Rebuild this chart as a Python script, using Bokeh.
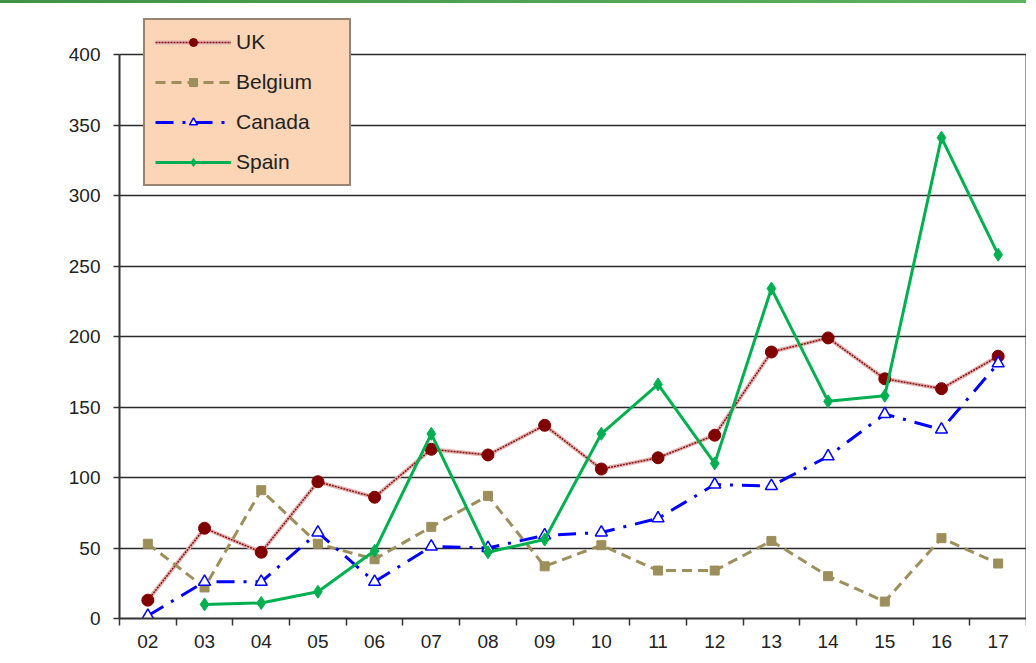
from bokeh.plotting import figure
from bokeh.models import Range1d, FixedTicker, Legend, LegendItem, Div, LinearAxis
from bokeh.layouts import column
from bokeh.embed import file_html
from bokeh.resources import INLINE

years = ["02", "03", "04", "05", "06", "07", "08", "09",
         "10", "11", "12", "13", "14", "15", "16", "17"]
uk = [13, 64, 47, 97, 86, 120, 116, 137, 106, 114, 130, 189, 199, 170, 163, 186]
belgium = [53, 22, 91, 53, 42, 65, 87, 37, 52, 34, 34, 55, 30, 12, 57, 39]
canada = [2, 26, 26, 61, 26, 51, 50, 59, 61, 71, 95, 94, 115, 145, 134, 181]
spain = [float("nan"), 10, 11, 19, 48, 131, 47, 56, 131, 166, 110, 234, 154, 158, 341, 258]
y_ticks = [0, 50, 100, 150, 200, 250, 300, 350, 400]

xs = [i + 0.5 for i in range(len(years))]
FONT = "Liberation Sans"

Y_MAX = 400
FRAME_H = 605          # frame extends above 400 so the legend is not clipped
PLOT_H = 564           # pixel height of 0..400
Y_TOP = Y_MAX * FRAME_H / PLOT_H

p = figure(frame_width=907, frame_height=FRAME_H,
           min_border_left=119, min_border_right=0,
           min_border_top=10, min_border_bottom=30,
           x_range=Range1d(0, len(years)), y_range=Range1d(0, Y_TOP),
           output_backend="svg", toolbar_location=None,
           background_fill_color="white", border_fill_color="white")

p.outline_line_color = None

# grid
p.xgrid.grid_line_color = None
p.ygrid.ticker = FixedTicker(ticks=y_ticks)
p.ygrid.grid_line_color = "#2a2a2a"
p.ygrid.grid_line_width = 1.5

# y axis
p.yaxis.ticker = FixedTicker(ticks=y_ticks)
p.yaxis.bounds = (0, Y_MAX)
p.yaxis.axis_line_color = "#333333"
p.yaxis.axis_line_width = 2
p.yaxis.major_tick_line_color = "#333333"
p.yaxis.major_tick_line_width = 1.5
p.yaxis.major_tick_out = 6
p.yaxis.major_tick_in = 0
p.yaxis.minor_tick_line_color = None
p.yaxis.major_label_standoff = 13
p.yaxis.major_label_text_font = FONT
p.yaxis.major_label_text_font_size = "19px"
p.yaxis.major_label_text_color = "#222222"

# right border line (0..400)
right = LinearAxis(bounds=(0, Y_MAX), ticker=FixedTicker(ticks=[]),
                   axis_line_color="#333333", axis_line_width=2,
                   major_tick_line_color=None, minor_tick_line_color=None,
                   major_label_text_font_size="0px")
p.add_layout(right, "right")

# x axis: labels at category centres, ticks at boundaries
p.xaxis.ticker = FixedTicker(ticks=xs, minor_ticks=list(range(len(years) + 1)))
p.xaxis.major_label_overrides = {x: y for x, y in zip(xs, years)}
p.xaxis.axis_line_color = "#333333"
p.xaxis.axis_line_width = 2
p.xaxis.major_tick_line_color = None
p.xaxis.minor_tick_line_color = "#333333"
p.xaxis.minor_tick_line_width = 1.5
p.xaxis.minor_tick_out = 7
p.xaxis.minor_tick_in = 0
p.xaxis.major_label_standoff = 9
p.xaxis.major_label_text_font = FONT
p.xaxis.major_label_text_font_size = "19px"
p.xaxis.major_label_text_color = "#222222"

# UK
uk_halo = p.line(xs, uk, line_color="#e2b3b3", line_width=4)
uk_line = p.line(xs, uk, line_color="#8b1010", line_width=1.5, line_dash="2 1")
uk_pts = p.scatter(xs, uk, marker="circle", size=12, fill_color="#800000", line_color="#800000")

# Belgium
be_line = p.line(xs, belgium, line_color="#9c8f5c", line_width=3, line_dash="10 6")
be_pts = p.scatter(xs, belgium, marker="square", size=9, fill_color="#9c8f5c", line_color="#9c8f5c")

# Canada
ca_line = p.line(xs, canada, line_color="#0000ff", line_width=3, line_dash="18 9 3 9")
ca_pts = p.scatter(xs, canada, marker="triangle", size=12, fill_color="white",
                   line_color="#0000ff", line_width=1.5)

# Spain
sp_line = p.line(xs, spain, line_color="#00b050", line_width=3)
sp_pts = p.scatter(xs, spain, marker="diamond", size=13,
                   fill_color="#00b050", line_color="#00b050")

legend = Legend(items=[
    LegendItem(label="UK", renderers=[uk_halo, uk_line, uk_pts]),
    LegendItem(label="Belgium", renderers=[be_line, be_pts]),
    LegendItem(label="Canada", renderers=[ca_line, ca_pts]),
    LegendItem(label="Spain", renderers=[sp_line, sp_pts]),
], location=(24, 432))
legend.background_fill_color = "#fbd5b5"
legend.background_fill_alpha = 1
legend.border_line_color = "#333333"
legend.border_line_width = 2
legend.padding = 10
legend.spacing = 16
legend.glyph_width = 76
legend.glyph_height = 20
legend.label_height = 20
legend.label_width = 103
legend.label_standoff = 5
legend.label_text_font = FONT
legend.label_text_font_size = "21px"
legend.label_text_color = "#222222"
legend.margin = 0
p.add_layout(legend, "center")

bar = Div(text="", width=1026, height=3, margin=(0, 0, 0, 0),
          styles={"background": "linear-gradient(to right, #3e9444, #5db35e)"})

layout = column(bar, p, spacing=0)

open("out.html", "w").write(file_html(layout, INLINE))
